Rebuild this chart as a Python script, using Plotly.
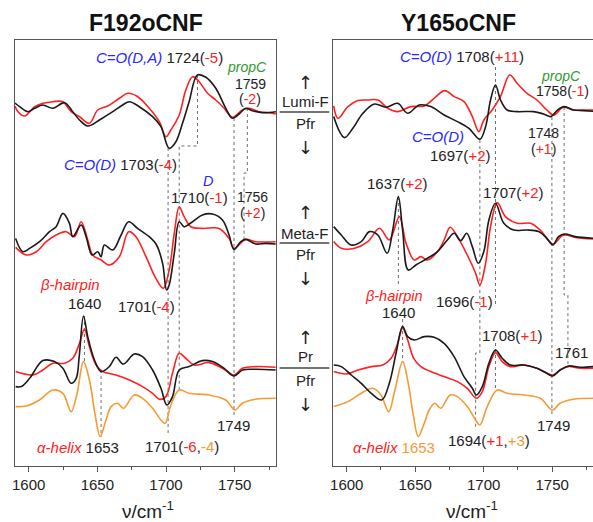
import plotly.graph_objects as go

# ---------------- data (wavenumber in cm-1, difference absorbance in arbitrary units) -------------
# Left panel: F192oCNF
L_lumi_k_x = [1590, 1593.4, 1599.4, 1604.3, 1610.3, 1617.6, 1626.1, 1632.1, 1637.0, 1643.0, 1651.5, 1661.2, 1668.4, 1673.3, 1680.5, 1690.2, 1696.3, 1702.3, 1707.2, 1712.0, 1716.8, 1722.9, 1729.0, 1736.2, 1743.5, 1748.3, 1753.2, 1758.0, 1762.8, 1770.1, 1780]
L_lumi_k_y = [9, 5.3, 0.3, 3.7, 7, 3.7, 9.3, 0.3, -8, -14, -8, 0.3, 7, 10.3, 5.3, -4.7, -14.7, -36.3, -29.7, -11.3, 10.3, 37, 34.7, 23.7, 3.7, -6.3, -2, 3.7, 1.3, -0.7, 0.3]
L_lumi_r_x = [1590, 1592.2, 1597.0, 1604.3, 1610.3, 1617.6, 1624.9, 1630.9, 1637.0, 1644.2, 1650.3, 1657.5, 1666.0, 1672.1, 1679.4, 1687.8, 1695.1, 1699.9, 1703.5, 1709.6, 1714.4, 1719.3, 1724.1, 1730.2, 1736.2, 1742.3, 1748.3, 1755.6, 1760.4, 1767.7, 1775.0, 1780]
L_lumi_r_y = [6, 0.3, -4, 5.3, 8.7, 10.3, 10.3, 0.3, -4.7, -11.3, 2, 6, 13.7, 18.7, 15.3, 3.7, -9.7, -24.7, -18, -3, 22, 35.3, 30.3, 18.7, 12, 3.7, -5.3, 2, 3.7, 0.3, -0.7, -2]

L_meta_k_x = [1590.5, 1595.8, 1600.7, 1607.9, 1615.2, 1620.0, 1624.9, 1629.7, 1632.1, 1638.2, 1641.8, 1646.2, 1650.3, 1652.7, 1655.1, 1661.2, 1667.3, 1672.8, 1679.3, 1687.8, 1693.1, 1697.5, 1700.4, 1702.3, 1706.0, 1709.6, 1713.2, 1719.3, 1726.5, 1733.8, 1741.1, 1745.9, 1749.5, 1754.4, 1758.0, 1765.3, 1772.5, 1779.8]
L_meta_k_y = [4.3, -9, -5.7, 1, 11, 16, 29.3, 19.3, 6, 17.7, 6, -12.3, -9, -14, -2.3, -7.3, 7.7, 21, 14.3, 6, -2.3, -20.7, -47.3, -42.3, -10.7, 21, 16, 21, 27.7, 28.7, 22.7, 7.7, -6.7, 1, 3.3, -1.3, -0.7, -1.3]
L_meta_r_x = [1590.5, 1598.2, 1605.5, 1612.8, 1620.0, 1627.3, 1633.3, 1638.2, 1643.0, 1646.6, 1652.7, 1658.7, 1666.0, 1672.8, 1678.1, 1685.4, 1692.6, 1698.0, 1702.3, 1706.0, 1709.6, 1713.2, 1718.1, 1726.5, 1738.6, 1745.9, 1749.5, 1758.0, 1765.3, 1779.8]
L_meta_r_y = [-4.7, -12.3, -9, 1, 7.7, 11, 6, 21, 2.7, -12.3, -17.3, -22.3, -14, 11, 6, -14, -35.7, -45.7, -27.3, 9.3, 36, 26, 16, 14.3, 14.3, 4.3, -5.7, 3.3, 1, 1]

L_pr_k_x = [1590.5, 1594.6, 1600.7, 1610.3, 1618.8, 1624.9, 1630.9, 1634.6, 1636.8, 1639.9, 1643.0, 1647.9, 1652.7, 1658.7, 1663.6, 1668.9, 1676.9, 1682.9, 1690.2, 1696.3, 1700.6, 1704.7, 1709.6, 1716.8, 1726.5, 1733.8, 1742.3, 1749.5, 1755.6, 1765.3, 1779.8]
L_pr_k_y = [-18.3, -18.3, -10, 7.7, 6.7, 0, -15, -10, 12, 52.3, 31.7, 8.3, -3.3, 1.7, 11, 4.3, 14.3, 11.7, -1.7, -20, -36.7, -28.3, -1.7, 1.7, 7.7, 6.7, 0, -7.7, -1.7, -1, -1.7]
L_pr_r_x = [1590.5, 1603.1, 1610.3, 1617.6, 1626.1, 1632.1, 1637.0, 1640.6, 1644.2, 1649.1, 1653.9, 1663.6, 1673.3, 1682.9, 1690.2, 1695.1, 1699.9, 1704.7, 1709.6, 1714.4, 1720.5, 1731.4, 1741.1, 1749.5, 1755.6, 1765.3, 1779.8]
L_pr_r_y = [-3.3, -6.7, -1.7, 5, 5, 10, 25, 39, 21.7, 3.3, -3.3, -6.7, -11.7, -18.3, -25, -31, -28.3, -5, 15, 10, 3.3, 5.7, 0, -6.7, 0, 1.7, 1]
L_helix_x = [1590.5, 1598.2, 1607.9, 1617.6, 1624.9, 1630.9, 1635.0, 1639.9, 1644.2, 1648.6, 1652.0, 1656.3, 1660.0, 1664.8, 1668.9, 1676.9, 1682.9, 1690.2, 1696.3, 1699.4, 1703.5, 1709.6, 1716.8, 1731.4, 1743.5, 1750.2, 1755.6, 1765.3, 1779.8]
L_helix_y = [-8.3, -7.7, -1.7, 8.3, 5, -13.3, 3.3, 36.7, 18.3, -18.3, -38.3, -21.7, -8.3, -5, -10, 3.3, 0, -10, -21.7, -25, -6.7, 8.3, 5, 3.3, -1.7, -11.7, -5, -1, 0]

# Right panel: Y165oCNF
R_lumi_k_x = [1590.5, 1594.8, 1598.5, 1604.5, 1611.8, 1620.3, 1628.7, 1637.2, 1644.5, 1652.9, 1661.4, 1671.1, 1680.8, 1689.2, 1697.2, 1701.4, 1705.0, 1708.6, 1712.3, 1717.1, 1724.4, 1736.5, 1743.7, 1749.0, 1753.4, 1758.7, 1765.5, 1772.8, 1780]
R_lumi_k_y = [-5.3, -20.3, -26.3, -17, -2, 7.3, 4, 8, -2, 6.3, 4.7, -3.7, -10.3, -17, -28, -15.3, 11.3, 26.3, 11.3, 1.3, -0.3, -0.3, -2.7, -5.3, 0.7, 4.7, 1.3, 0.7, 0]
R_lumi_r_x = [1590.5, 1593.6, 1600.9, 1608.2, 1615.4, 1622.7, 1630.0, 1637.2, 1646.9, 1656.6, 1663.8, 1671.6, 1678.4, 1685.6, 1691.7, 1696.5, 1700.1, 1706.2, 1712.2, 1719.0, 1724.4, 1731.6, 1738.9, 1746.1, 1751.0, 1758.2, 1765.5, 1772.8, 1780]
R_lumi_r_y = [5.3, -7, 4.7, 10.7, 11.3, 11.3, 3, -0.3, 4.7, 5.3, 13, 20.7, 14.7, 9.7, -5.3, -20.3, -8.7, 1.3, 14.7, 36.3, 28, 18, 11.3, 1.3, -3.7, 4, 1.3, 1.3, 1.3]

R_meta_k_x = [1590.5, 1596.0, 1603.3, 1610.6, 1616.6, 1622.7, 1629.5, 1633.6, 1637.7, 1640.8, 1644.9, 1650.5, 1659.0, 1666.3, 1673.5, 1678.4, 1683.2, 1687.6, 1691.7, 1696.0, 1700.1, 1703.8, 1708.6, 1714.7, 1721.9, 1731.6, 1740.1, 1746.1, 1750.5, 1754.6, 1759.4, 1766.7, 1780]
R_meta_k_y = [11.7, 3.3, -6.7, -3.3, 6.7, 3.3, -15, 8.3, 41.7, 8.3, -31.7, -26.7, -20, -13.3, -1.7, 5, -2.3, 5, -8.3, -25, -13.3, 18.3, 35, 15, 8.3, 8.3, 6.7, 0, -6.7, 1.7, 4.3, 1.7, 0]
R_meta_r_x = [1590.5, 1596.0, 1605.7, 1615.4, 1623.9, 1631.1, 1638.4, 1643.3, 1649.3, 1654.1, 1659.0, 1666.3, 1671.1, 1675.5, 1680.8, 1688.0, 1694.1, 1697.2, 1701.4, 1705.0, 1709.9, 1715.9, 1724.4, 1734.1, 1741.3, 1750.5, 1758.2, 1767.9, 1780]
R_meta_r_y = [-3.3, -10, -10, -3.3, 10, -1.7, 21.7, -5, -21.7, -18.3, -21.7, -13.3, -1.7, 11, 1.7, -16.7, -35, -46.7, -25, 11.7, 35.7, 21.7, 15, 15, 8.3, -5.7, 3.3, 0.7, -0.7]

R_pr_k_x = [1590.5, 1596.0, 1603.3, 1610.6, 1617.9, 1625.6, 1631.1, 1636.0, 1640.8, 1644.5, 1649.3, 1656.6, 1663.8, 1671.1, 1678.4, 1685.6, 1691.7, 1694.6, 1699.0, 1703.8, 1708.6, 1713.5, 1719.5, 1729.2, 1738.9, 1746.1, 1750.3, 1755.8, 1761.9, 1770.4, 1780]
R_pr_k_y = [2.3, 0.7, -7.7, -16, -26, -32.7, -16, 14, 40.7, 30.7, 27.3, 30.7, 30, 24, 10.7, -9.3, -21, -27.7, -19.3, 4, 17.3, 9, 2.3, 2.3, -1, -6, -8.7, -2.7, 1.3, 0, 0.7]
R_pr_r_x = [1590.5, 1599.7, 1608.2, 1617.9, 1626.3, 1632.4, 1637.2, 1640.8, 1644.5, 1648.9, 1654.1, 1661.4, 1671.1, 1680.8, 1688.0, 1694.6, 1699.0, 1703.8, 1708.6, 1713.5, 1719.5, 1729.2, 1738.9, 1750.3, 1755.8, 1761.9, 1770.4, 1780]
R_pr_r_y = [-4.3, -6.7, -2.7, 0.7, 2.3, 9, 24, 39.3, 27.3, 9, 0.7, -4.3, -9.3, -14.3, -21, -31, -24.3, 0.7, 14.7, 5.7, 0.7, 2.3, -1, -7.7, -2.7, 0.7, -1, -1]
R_helix_x = [1590.5, 1600.9, 1610.6, 1619.0, 1625.0, 1630.6, 1635.2, 1640.8, 1644.9, 1648.8, 1652.2, 1656.6, 1660.2, 1664.3, 1668.7, 1675.5, 1680.8, 1688.0, 1694.1, 1697.2, 1702.6, 1709.9, 1717.1, 1729.2, 1741.3, 1750.3, 1755.8, 1765.5, 1780]
R_helix_y = [-8.3, -3.3, 5, 10, 3.3, -13.3, 8.3, 36.7, 15, -18.3, -38.3, -25, -11.7, -5, -10, 3.3, 1.7, -8.3, -21.7, -26.7, -8.3, 8.3, 5, 3.3, 0, -11.7, -5, -1, 0]

# vertical stacking offsets of each difference spectrum
L_offsets = {"lumi": 354, "meta": 223.3, "pr": 97.7, "helix": 67.7}
R_offsets = {"lumi": 354.7, "meta": 227.7, "pr": 98.7, "helix": 67.7}

# dotted band-assignment guides (wavenumber, vertical level)
L_guide_x = [1722.9, 1722.9, 1709.6, 1709.6, None, 1701.5, 1701.5, None, 1749.5, 1749.5, None,
             1759.2, 1759.2, 1756.8, 1756.8, None, 1640.6, 1640.6, None, 1652.7, 1652.7]
L_guide_y = [391, 320, 320, 76, None, 318, 30, None, 348, 48, None,
             358, 293, 293, 226, None, 150, 104, None, 96, 29]
R_guide_x = [1708.6, 1708.6, None, 1697.2, 1697.2, 1694.1, 1694.1, None, 1749.8, 1749.8, None,
             1758.7, 1758.7, 1761.5, 1761.5, None, 1637.7, 1637.7, None, 1640.8, 1640.8, None, 1708.6, 1708.6]
R_guide_y = [399, 159, None, 326, 113, 113, 36, None, 349, 50, None,
             359, 171, 171, 101, None, 269, 181, None, 147, 104, None, 123, 76]

x_ticks = [1600, 1650, 1700, 1750]

BLACK = "#1a1a1a"
RED = "#ff2020"
ORANGE = "#f59a35"
BLUE = "#2828ff"
GREEN = "#2f9a2f"
GREY = "#6f6f6f"
FRAME = "#555555"
FONT = "Liberation Sans, Arial, sans-serif"

fig = go.Figure()


def add_curve(xs, ys, off, color, xa, ya):
    fig.add_trace(go.Scatter(x=xs, y=[off + v for v in ys], mode="lines",
                             line=dict(color=color, width=1.6, shape="spline", smoothing=1.0),
                             xaxis=xa, yaxis=ya, hoverinfo="skip"))


for xa, ya, off, gx, gy, data in [
    ("x", "y", L_offsets, L_guide_x, L_guide_y,
     [(L_lumi_r_x, L_lumi_r_y, "lumi", RED), (L_lumi_k_x, L_lumi_k_y, "lumi", BLACK),
      (L_meta_r_x, L_meta_r_y, "meta", RED), (L_meta_k_x, L_meta_k_y, "meta", BLACK),
      (L_helix_x, L_helix_y, "helix", ORANGE),
      (L_pr_r_x, L_pr_r_y, "pr", RED), (L_pr_k_x, L_pr_k_y, "pr", BLACK)]),
    ("x2", "y2", R_offsets, R_guide_x, R_guide_y,
     [(R_lumi_r_x, R_lumi_r_y, "lumi", RED), (R_lumi_k_x, R_lumi_k_y, "lumi", BLACK),
      (R_meta_r_x, R_meta_r_y, "meta", RED), (R_meta_k_x, R_meta_k_y, "meta", BLACK),
      (R_helix_x, R_helix_y, "helix", ORANGE),
      (R_pr_r_x, R_pr_r_y, "pr", RED), (R_pr_k_x, R_pr_k_y, "pr", BLACK)]),
]:
    fig.add_trace(go.Scatter(x=gx, y=gy, mode="lines", line=dict(color=GREY, width=1, dash="dot"),
                             xaxis=xa, yaxis=ya, hoverinfo="skip"))
    for xs, ys, key, col in data:
        add_curve(xs, ys, off[key], col, xa, ya)


def r(t):
    return f"<span style='color:{RED}'>{t}</span>"


def o(t):
    return f"<span style='color:{ORANGE}'>{t}</span>"


def b(t):
    return f"<i><span style='color:{BLUE}'>{t}</span></i>"


def g(t):
    return f"<i><span style='color:{GREEN}'>{t}</span></i>"


def ri(t):
    return f"<i><span style='color:{RED}'>{t}</span></i>"


# (x, y, text, font size)
labels_L = [
    (1694.9, 408, b("C=O(D,A)") + " 1724(" + r("-5") + ")", 15),
    (1759.2, 399, g("propC"), 14),
    (1761.4, 382.5, "1759", 14),
    (1761.4, 367.5, "(" + r("-2") + ")", 14),
    (1667.2, 302, b("C=O(D)") + " 1703(" + r("-4") + ")", 15),
    (1730.2, 285, b("D"), 14.5),
    (1724.7, 268.5, "1710(" + r("-1") + ")", 15),
    (1762.8, 269.5, "1756", 14),
    (1762.8, 253.5, "(" + r("+2") + ")", 14),
    (1630.3, 181.7, ri("β-hairpin"), 15),
    (1640.6, 162.7, "1640", 15),
    (1685.9, 160, "1701(" + r("-4") + ")", 15),
    (1635.8, 18.7, ri("α-helix") + " 1653", 15),
    (1711.3, 20, "1701(" + r("-6") + "," + o("-4") + ")", 15),
    (1749.0, 41, "1749", 15),
]
labels_R = [
    (1684.4, 409.3, b("C=O(D)") + " 1708(" + r("+11") + ")", 15),
    (1756.2, 390, g("propC"), 14),
    (1757.5, 375.5, "1758(" + r("-1") + ")", 14),
    (1666.3, 329.3, b("C=O(D)"), 15),
    (1682.4, 311, "1697(" + r("+2") + ")", 15),
    (1743.4, 333, "1748", 14),
    (1743.4, 317.5, "(" + r("+1") + ")", 14),
    (1636.7, 282.7, "1637(" + r("+2") + ")", 15),
    (1721.3, 273.3, "1707(" + r("+2") + ")", 15),
    (1634.5, 170.5, ri("β-hairpin"), 14.5),
    (1638.1, 154, "1640", 15),
    (1686.0, 165, "1696(" + r("-1") + ")", 15),
    (1721.0, 131, "1708(" + r("+1") + ")", 15),
    (1764.3, 113.3, "1761", 15),
    (1750.7, 41, "1749", 15),
    (1704.2, 26, "1694(" + r("+1") + "," + o("+3") + ")", 15),
    (1634.5, 18.7, ri("α-helix") + " " + o("1653"), 15),
]

ann = []
for xr, yr, labs in [("x", "y", labels_L), ("x2", "y2", labels_R)]:
    for xv, yv, t, fs in labs:
        ann.append(dict(x=xv, y=yv, xref=xr, yref=yr, text=t, showarrow=False,
                        xanchor="center", yanchor="middle",
                        font=dict(family=FONT, size=fs, color="#222222")))

H = 522.0
W = 593.0
# titles
for cx, t in [(143.5, "F192oCNF"), (457.5, "Y165oCNF")]:
    ann.append(dict(x=cx / W, y=1 - 23 / H, xref="paper", yref="paper", text=f"<b>{t}</b>",
                    showarrow=False, xanchor="center", yanchor="middle",
                    font=dict(family=FONT, size=23, color="#111111")))
# axis titles
for cx in [146, 471]:
    ann.append(dict(x=cx / W, y=1 - 510 / H, xref="paper", yref="paper", text="ν/cm<sup>-1</sup>",
                    showarrow=False, xanchor="center", yanchor="middle",
                    font=dict(family=FONT, size=19, color="#222222")))
# middle state labels
shapes = []
mid = 304 / W
for up, top, line_y, bot, dn, name in [(82, 102, 112, 123, 148, "Lumi-F"),
                                        (212, 233, 243, 254, 278, "Meta-F"),
                                        (337, 356, 368, 380, 404, "Pr")]:
    for py, t, fam, fs in [(up, "↑", "DejaVu Sans", 18), (top, name, FONT, 15),
                           (bot, "Pfr", FONT, 15), (dn, "↓", "DejaVu Sans", 18)]:
        ann.append(dict(x=mid, y=1 - py / H, xref="paper", yref="paper", text=t, showarrow=False,
                        xanchor="center", yanchor="middle",
                        font=dict(family=fam, size=fs, color="#222222")))
    shapes.append(dict(type="line", xref="paper", yref="paper", x0=278 / W, x1=328 / W,
                       y0=1 - line_y / H, y1=1 - line_y / H, line=dict(color="#444444", width=1.3)))

axis_common = dict(showgrid=False, zeroline=False, showline=True, linecolor=FRAME, linewidth=1.4,
                   ticks="outside", ticklen=5, tickwidth=1.2, tickcolor=FRAME,
                   tickvals=x_ticks, tickfont=dict(family=FONT, size=15, color="#222222"),
                   minor=dict(dtick=25, tick0=1575, ticks="outside", ticklen=3, tickcolor=FRAME, tickwidth=1.2,
                              showgrid=False),
                   mirror=True)
yaxis_common = dict(showgrid=False, zeroline=False, showticklabels=False, ticks="", range=[0, 426],
                    domain=[56 / H, 482 / H], showline=True, linecolor=FRAME, linewidth=1.4)

fig.update_layout(
    width=593, height=522, margin=dict(l=0, r=0, t=0, b=0),
    paper_bgcolor="white", plot_bgcolor="white", showlegend=False,
    xaxis=dict(domain=[12 / W, 274.3 / W], range=[1590, 1780], anchor="y", **axis_common),
    xaxis2=dict(domain=[331.7 / W, 1.0], range=[1590, 1779.8], anchor="y2", **axis_common),
    yaxis=dict(anchor="x", mirror=True, **yaxis_common),
    yaxis2=dict(anchor="x2", mirror=False, **yaxis_common),
    annotations=ann, shapes=shapes,
)

fig.write_html("out.html")
